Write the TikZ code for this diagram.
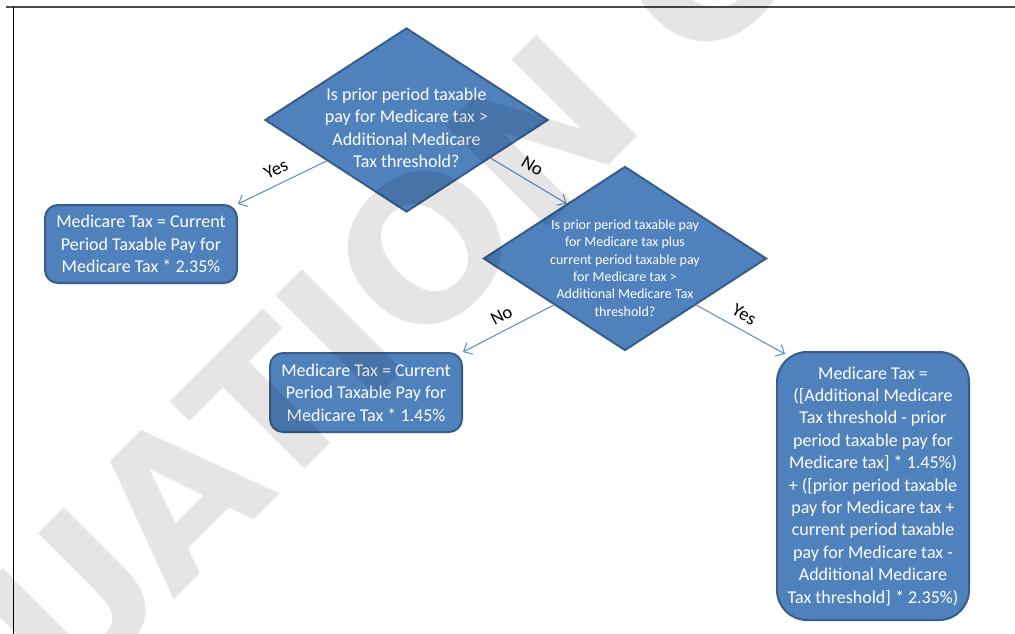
\documentclass[tikz,border=0pt]{standalone}
\usepackage{fontspec}
\setmainfont{Carlito}
\newfontfamily\wmfont{DejaVu Sans}
\usetikzlibrary{shapes.geometric,arrows.meta,calc}
\definecolor{boxfill}{HTML}{4F81BD}
\definecolor{boxline}{HTML}{385D8A}
\definecolor{arrcol}{HTML}{5A8AC6}
\begin{document}
\begin{tikzpicture}[x=1pt,y=-1pt,
  decision/.style={diamond, draw=boxline, fill=boxfill, line width=2pt,
    minimum width=283pt, minimum height=184pt, inner sep=0pt},
  dtext/.style={text=white, align=center, inner sep=0pt},
  bigtext/.style={font=\fontsize{18}{22.4}\selectfont},
  smalltext/.style={font=\fontsize{14}{17.3}\selectfont},
  result/.style={rectangle, draw=boxline, fill=boxfill, line width=2pt,
    text=white, align=center, inner sep=0pt, minimum width=192pt,
    font=\fontsize{18}{22.4}\selectfont},
  arr/.style={draw=arrcol, line width=1pt, -{Straight Barb[length=7pt,width=13pt]}},
  lab/.style={font=\fontsize{18.5}{20}\selectfont, text=black, sloped, above=5pt}
]
\useasboundingbox (0,0) rectangle (1015,634);
\fill[white] (0,0) rectangle (1015,634);
% frame
\draw[line width=1.6pt, black!70] (6,7) -- (1015,7);
\draw[line width=1pt, black] (13,7) -- (13,634);

% decisions
\node[decision] (d1) at (406.5,120) {};
\node[dtext, bigtext] (q1) at (406.5,128) {Is prior period taxable\\pay for Medicare tax >\\Additional Medicare\\Tax threshold?};
\node[decision] (d2) at (625,258.5) {};
\node[dtext, smalltext] (q2) at (625,268) {Is prior period taxable pay\\for Medicare tax plus\\current period taxable pay\\for Medicare tax >\\Additional Medicare Tax\\threshold?};

% results
\node[result, rounded corners=13pt, minimum height=78pt] (b1) at (141,244)
  {Medicare Tax = Current\\Period Taxable Pay for\\Medicare Tax * 2.35\%};
\node[result, rounded corners=13pt, minimum height=79pt] (b2) at (366,392.5)
  {Medicare Tax = Current\\Period Taxable Pay for\\Medicare Tax * 1.45\%};
\node[result, rounded corners=30pt, minimum height=268pt] (b3) at (873,486)
  {Medicare Tax =\\([Additional Medicare\\Tax threshold - prior\\period taxable pay for\\Medicare tax] * 1.45\%)\\+ ([prior period taxable\\pay for Medicare tax +\\current period taxable\\pay for Medicare tax -\\Additional Medicare\\Tax threshold] * 2.35\%)};

% connectors
\draw[arr] ($(d1.west)!0.44!(d1.south)$) -- node[lab, pos=0.5] {Yes} (b1.north east);
\draw[arr] ($(d1.east)!0.41!(d1.south)$) -- node[lab, pos=0.45] {No} ($(d2.north)!0.41!(d2.west)$);
\draw[arr] (d2.south west) -- node[lab, pos=0.5] {No} (b2.north east);
\draw[arr] (d2.south east) -- node[lab, pos=0.46] {Yes} ($(b3.north west)+(9,3)$);

% watermark
\begin{scope}
\clip (0,0) rectangle (1015,634);
\node[rotate=45, anchor=base west, inner sep=0pt, text=black, text opacity=0.1,
  font=\wmfont\bfseries\fontsize{196}{196}\selectfont] (wm) at (-318,1092) {EVALUATION C};
\end{scope}
\end{tikzpicture}
\end{document}
